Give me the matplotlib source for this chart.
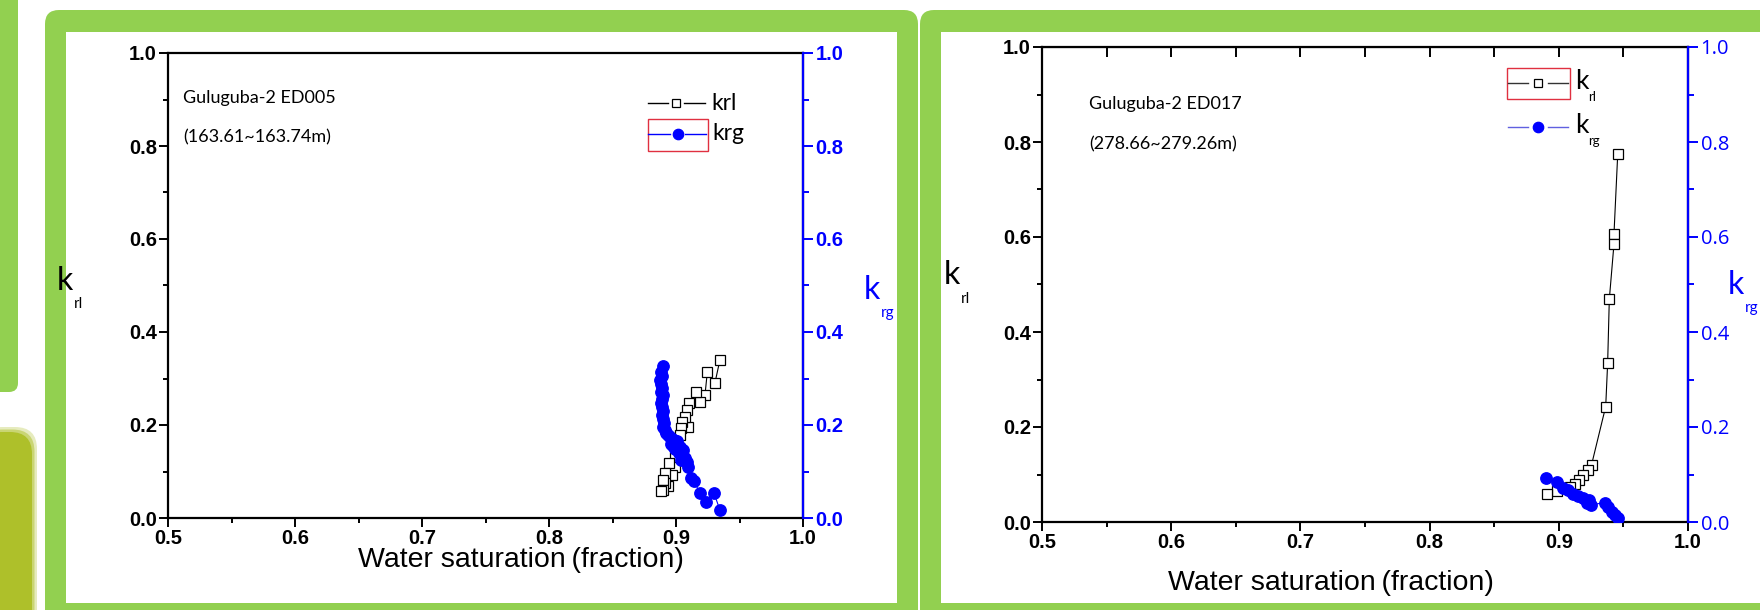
import numpy as np
import matplotlib.pyplot as plt
from matplotlib.patches import FancyBboxPatch, Rectangle
from matplotlib.ticker import MultipleLocator, NullFormatter

# --- data ---
# Guluguba-2 ED005 (163.61~163.74m)
sw_krl_1 = [0.9346, 0.9307, 0.9247, 0.9228, 0.9189, 0.9157, 0.9105, 0.9083, 0.9097, 0.9070,
            0.9050, 0.9040, 0.9030, 0.9000, 0.8990, 0.8990, 0.8947, 0.8970, 0.8910, 0.8940,
            0.8915, 0.8900, 0.8900, 0.8879]
krl_1 = [0.340, 0.291, 0.315, 0.264, 0.250, 0.272, 0.247, 0.232, 0.196, 0.218,
         0.207, 0.193, 0.178, 0.150, 0.132, 0.110, 0.118, 0.093, 0.096, 0.068,
         0.075, 0.082, 0.061, 0.057]
sw_krg_1 = [0.8895, 0.8885, 0.8890, 0.8875, 0.8880, 0.8890, 0.8885, 0.8895, 0.8890, 0.8885,
            0.8892, 0.8898, 0.8890, 0.8895, 0.8905, 0.8900, 0.8912, 0.8920, 0.8935, 0.8950,
            0.8965, 0.8985, 0.9005, 0.8960, 0.8975, 0.9010, 0.9030, 0.9058, 0.8990, 0.9020,
            0.9045, 0.9070, 0.9040, 0.9085, 0.9097, 0.9120, 0.9140, 0.9190, 0.9240, 0.9300,
            0.9346]
krg_1 = [0.326, 0.315, 0.305, 0.297, 0.288, 0.280, 0.272, 0.265, 0.255, 0.247,
         0.239, 0.230, 0.222, 0.212, 0.204, 0.196, 0.190, 0.183, 0.178, 0.175,
         0.170, 0.168, 0.165, 0.160, 0.155, 0.158, 0.152, 0.146, 0.148, 0.140,
         0.135, 0.130, 0.125, 0.120, 0.110, 0.085, 0.080, 0.053, 0.034, 0.053,
         0.017]

# Guluguba-2 ED017 (278.66~279.26m)
sw_krl_2 = [0.9456, 0.9427, 0.9427, 0.9391, 0.9378, 0.9363, 0.9254, 0.9228, 0.9190, 0.9159,
            0.9125, 0.9087, 0.8988, 0.8906]
krl_2 = [0.774, 0.606, 0.585, 0.469, 0.334, 0.243, 0.121, 0.109, 0.099, 0.088,
         0.079, 0.074, 0.065, 0.058]
sw_krg_2 = [0.8900, 0.8984, 0.9035, 0.9070, 0.9112, 0.9150, 0.9190, 0.9230, 0.9218, 0.9247,
            0.9358, 0.9383, 0.9410, 0.9435, 0.9460]
krg_2 = [0.092, 0.085, 0.071, 0.067, 0.060, 0.055, 0.050, 0.047, 0.041, 0.036,
         0.041, 0.032, 0.022, 0.015, 0.009]

sample_names = ["Guluguba-2 ED005", "Guluguba-2 ED017"]
sample_depths = ["(163.61~163.74m)", "(278.66~279.26m)"]
xticks = [0.5, 0.6, 0.7, 0.8, 0.9, 1.0]

W, H = 1760, 610
GREEN = '#92D050'
BLUE = '#0000FF'
TICK_FONT = ['Liberation Sans', 'DejaVu Sans']
plt.rcParams['font.family'] = ['Lato', 'DejaVu Sans']

fig = plt.figure(figsize=(W / 100, H / 100), dpi=100)

# slide background drawn in pixel coordinates
bg = fig.add_axes([0, 0, 1, 1])
bg.set_xlim(0, W)
bg.set_ylim(H, 0)
bg.axis('off')
bg.add_patch(FancyBboxPatch((-20, -20), 38, 412, boxstyle='round,pad=0,rounding_size=9',
                            fc=GREEN, ec='none'))
for grow, a in [(5, 0.3), (2.5, 0.5), (0, 1.0)]:
    bg.add_patch(FancyBboxPatch((-20, 432 - grow), 52 + grow, 260,
                                boxstyle='round,pad=0,rounding_size=22',
                                fc='#AEC02A', ec='none', alpha=a))
bg.add_patch(FancyBboxPatch((45, 10), 873, 640, boxstyle='round,pad=0,rounding_size=14',
                            fc=GREEN, ec='none'))
bg.add_patch(Rectangle((66, 32), 831, 571, fc='white', ec='none'))
bg.add_patch(FancyBboxPatch((920, 10), 900, 640, boxstyle='round,pad=0,rounding_size=14',
                            fc=GREEN, ec='none'))
bg.add_patch(Rectangle((941, 32), 900, 571, fc='white', ec='none'))


def px_axes(x0, y0, x1, y1):
    return fig.add_axes([x0 / W, 1 - y1 / H, (x1 - x0) / W, (y1 - y0) / H])


def style_axes(ax, ax2, right_bold, xlab_pos):
    ax.set_xlim(0.5, 1.0)
    ax.set_ylim(0.0, 1.0)
    ax2.set_ylim(0.0, 1.0)
    ax.xaxis.set_minor_locator(MultipleLocator(0.05))
    ax.yaxis.set_major_locator(MultipleLocator(0.2))
    ax.yaxis.set_minor_locator(MultipleLocator(0.1))
    ax2.yaxis.set_major_locator(MultipleLocator(0.2))
    ax2.yaxis.set_minor_locator(MultipleLocator(0.1))
    ax.set_xticks(xticks)
    ax.set_xticklabels([f'{t:.1f}' for t in xticks])
    for s in ax.spines.values():
        s.set_linewidth(1.6)
    ax2.spines['right'].set_color(BLUE)
    ax2.spines['right'].set_linewidth(1.6)
    for s in ['left', 'top', 'bottom']:
        ax2.spines[s].set_visible(False)
    ax.tick_params(which='both', direction='out', width=1.4, top=False, right=False,
                   labelsize=14.5, pad=1.5)
    ax.tick_params(which='major', length=6.5)
    ax.tick_params(which='minor', length=3.5)
    for lab in ax.get_xticklabels() + ax.get_yticklabels():
        lab.set_fontweight('bold')
        lab.set_family(TICK_FONT)
    ax2.tick_params(which='both', direction='out', width=1.4, colors=BLUE, labelsize=14.5, pad=2)
    ax2.tick_params(which='major', length=7)
    ax2.tick_params(which='minor', length=4)
    for lab in ax2.get_yticklabels():
        lab.set_fontweight('bold' if right_bold else 'normal')
        lab.set_family(TICK_FONT if right_bold else ['Open Sans', 'DejaVu Sans'])
    ax.set_xlabel('Water saturation\u2009(fraction)', fontsize=20.5, family=['Liberation Sans'])
    ax.xaxis.set_label_coords(*xlab_pos)
    ax.patch.set_alpha(0)
    ax2.patch.set_alpha(0)


def k_label(ax, x, y, sub, color, size=23):
    ax.text(x, y, 'k', transform=ax.transAxes, fontsize=size, color=color,
            ha='center', va='center', clip_on=False)
    ax.text(x + 0.014, y - 0.05, sub, transform=ax.transAxes, fontsize=11, color=color,
            ha='left', va='center', clip_on=False)


def legend_row(ax, xs, y, marker, color, lc, mfc, ms, sub_style, label):
    t = ax.transAxes
    ax.plot([xs[0], xs[1]], [y, y], color=lc, lw=1.0, transform=t, clip_on=False)
    ax.plot([xs[2], xs[3]], [y, y], color=lc, lw=1.0, transform=t, clip_on=False)
    ax.plot([(xs[1] + xs[2]) / 2], [y], marker=marker, color=color, mfc=mfc, ms=ms,
            mew=0.9, transform=t, clip_on=False, ls='none')
    if sub_style:
        ax.text(xs[3] + 0.010, y + 0.003, 'k', transform=t, fontsize=19, va='center', ha='left')
        ax.text(xs[3] + 0.030, y - 0.030, label, transform=t, fontsize=9.5, va='center', ha='left')
    else:
        ax.text(xs[3] + 0.010, y, label, transform=t, fontsize=16.5, va='center', ha='left')


# ---- left panel ----
ax1 = px_axes(168, 53, 803, 518)
ax1b = ax1.twinx()
style_axes(ax1, ax1b, right_bold=True, xlab_pos=(0.556, -0.062))
ax1.plot(sw_krl_1, krl_1, '-', color='black', lw=0.8, marker='s', mfc='white',
         mec='black', ms=7.2, mew=0.9, zorder=2)
ax1b.plot(sw_krg_1, krg_1, '-', color=BLUE, lw=0.8, marker='o', mfc=BLUE,
          mec=BLUE, ms=8.2, zorder=3)
ax1.text(0.024, 0.903, sample_names[0], transform=ax1.transAxes, fontsize=13,
         va='center', ha='left')
ax1.text(0.024, 0.819, sample_depths[0], transform=ax1.transAxes, fontsize=13,
         va='center', ha='left')
k_label(ax1, -0.163, 0.51, 'rl', 'black')
k_label(ax1b, 1.108, 0.49, 'rg', BLUE)
legend_row(ax1, [0.756, 0.787, 0.813, 0.846], 0.892, 's', 'black', 'black', 'white', 6,
           False, 'krl')
legend_row(ax1b, [0.756, 0.791, 0.814, 0.848], 0.826, 'o', BLUE, BLUE, BLUE, 7.5,
           False, 'krg')
ax1.add_patch(Rectangle((0.756, 0.790), 0.094, 0.067, transform=ax1.transAxes,
                        fill=False, ec='#E03040', lw=1.0, clip_on=False))

# ---- right panel ----
ax2 = px_axes(1042, 47, 1688, 522)
ax2b = ax2.twinx()
style_axes(ax2, ax2b, right_bold=False, xlab_pos=(0.447, -0.100))
top = ax2.secondary_xaxis('top')
top.xaxis.set_major_locator(MultipleLocator(0.05))
top.xaxis.set_major_formatter(NullFormatter())
top.tick_params(direction='in', length=7, width=1.4)
ax2.plot(sw_krl_2, krl_2, '-', color='black', lw=0.8, marker='s', mfc='white',
         mec='black', ms=7.2, mew=0.9, zorder=2)
ax2b.plot(sw_krg_2, krg_2, '-', color=BLUE, lw=0.8, marker='o', mfc=BLUE,
          mec=BLUE, ms=8.2, zorder=3)
ax2.text(0.073, 0.880, sample_names[1], transform=ax2.transAxes, fontsize=13,
         va='center', ha='left')
ax2.text(0.073, 0.794, sample_depths[1], transform=ax2.transAxes, fontsize=13,
         va='center', ha='left')
k_label(ax2, -0.139, 0.52, 'rl', 'black')
k_label(ax2b, 1.074, 0.50, 'rg', BLUE)
legend_row(ax2, [0.722, 0.752, 0.784, 0.815], 0.924, 's', 'black', '#333333', 'white', 6,
           True, 'rl')
legend_row(ax2b, [0.722, 0.752, 0.784, 0.815], 0.832, 'o', BLUE, '#6060E0', BLUE, 7.5,
           True, 'rg')
ax2.add_patch(Rectangle((0.720, 0.890), 0.098, 0.065, transform=ax2.transAxes,
                        fill=False, ec='#E03040', lw=1.0, clip_on=False))

fig.savefig('out.png', dpi=100)
